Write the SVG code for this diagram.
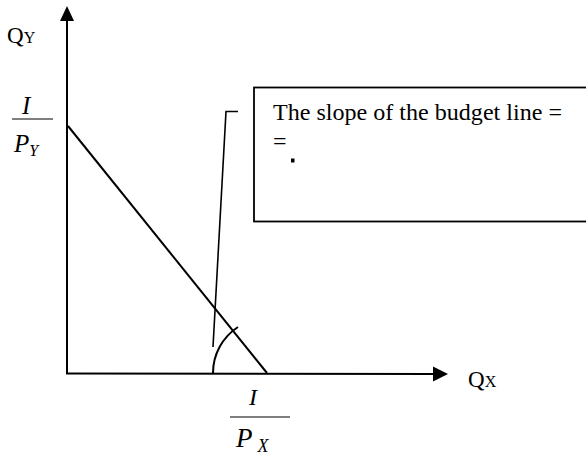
<svg xmlns="http://www.w3.org/2000/svg" width="586" height="455" viewBox="0 0 586 455">
<style>
.t{font-family:"Liberation Serif","Times New Roman",serif;fill:#000}
.i{font-style:italic}
.ax{stroke:#000;stroke-width:2;fill:none}
.frac{stroke:#555;stroke-width:1.5}
</style>
<rect width="586" height="455" fill="#fff"/>
<g id="connectors">
<line class="ax" x1="67" y1="374" x2="67" y2="18"/>
<polygon points="67,6 60,21 74,21" fill="#000"/>
<line class="ax" x1="66" y1="373.5" x2="435" y2="374"/>
<polygon points="448,374 433,366.5 433,381.5" fill="#000"/>
<line class="ax" x1="68" y1="126" x2="267" y2="373"/>
<path d="M213,373 A55,55 0 0 1 238,327" class="ax" stroke-width="1.5"/>
<polyline points="238,111.5 226,111.5 213,347" fill="none" stroke="#000" stroke-width="1.6"/>
</g>
<g id="axis-y-label">
<text class="t" x="7" y="43" font-size="23">Q<tspan font-size="16">Y</tspan></text>
</g>
<g id="axis-x-label">
<text class="t" x="468" y="387" font-size="23">Q<tspan font-size="16">X</tspan></text>
</g>
<g id="intercept-y">
<text class="t i" x="22" y="114" font-size="25">I</text>
<line class="frac" x1="12" y1="119" x2="53" y2="119"/>
<text class="t i" x="14" y="152" font-size="25">P<tspan font-size="16" dy="4">Y</tspan></text>
</g>
<g id="intercept-x">
<text class="t i" x="249" y="405" font-size="24">I</text>
<line class="frac" x1="230" y1="417" x2="290" y2="417"/>
<text class="t i" x="236" y="447" font-size="27">P<tspan font-size="18" dx="5" dy="5">X</tspan></text>
</g>
<g id="slope-box">
<rect x="254" y="87.5" width="340" height="134" fill="none" stroke="#000" stroke-width="1.8"/>
<text class="t" x="273" y="120" font-size="24" textLength="289" lengthAdjust="spacingAndGlyphs">The slope of the budget line =</text>
<text class="t" x="273" y="149" font-size="24">=</text>
<rect x="291" y="158.5" width="3.5" height="4" fill="#000"/>
</g>
</svg>
